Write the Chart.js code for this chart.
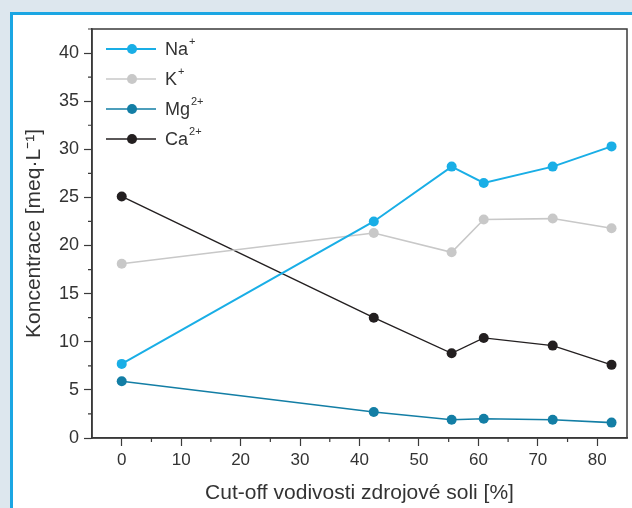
<!DOCTYPE html>
<html>
<head>
<meta charset="utf-8">
<script src="https://cdn.jsdelivr.net/npm/chart.js@4.4.1/dist/chart.umd.min.js"></script>
<style>
    html, body { margin: 0; padding: 0; background: #dde7ee; overflow: hidden; }
    #panel { position: absolute; left: 10px; top: 12px; width: 650px; height: 520px; background: #fff;
             border-left: 3px solid #1ba6e3; border-top: 3px solid #1ba6e3; }
    #wrap { position: absolute; left: 0; top: 0; width: 632px; height: 508px; }
</style>
</head>
<body>
<div id="panel"></div>
<div id="wrap"><canvas id="chart"></canvas></div>
<script>
// cut-off vodivosti (x) a koncentrace iontu (y)
const cutoff = [0, 42.4, 55.5, 60.9, 72.5, 82.4];
const na = [7.7, 22.5, 28.2, 26.5, 28.2, 30.3];
const k = [18.1, 21.3, 19.3, 22.7, 22.8, 21.8];
const mg = [5.9, 2.7, 1.9, 2.0, 1.9, 1.6];
const ca = [25.1, 12.5, 8.8, 10.4, 9.6, 7.6];
const ionNames = ['Na', 'K', 'Mg', 'Ca'];
const charges = ['+', '+', '2+', '2+'];
const xTicks = [0, 10, 20, 30, 40, 50, 60, 70, 80];
const yTicks = [0, 5, 10, 15, 20, 25, 30, 35, 40];
const xMinor = [5, 15, 25, 35, 45, 55, 65, 75];
const yMinor = [2.5, 7.5, 12.5, 17.5, 22.5, 27.5, 32.5, 37.5, 42.5];

const colors = ['#19aee6', '#c8c8c8', '#137ea5', '#231f20'];
const widths = [2, 1.6, 1.6, 1.4];
const series = [na, k, mg, ca];
const axisColor = '#3a3a3a';
const textColor = '#333';
const font = 'Liberation Sans, Arial, sans-serif';

const datasets = series.map((vals, i) => ({
    label: ionNames[i] + (charges[i] === '+' ? '⁺' : '²⁺'),
    data: vals.map((v, j) => ({ x: cutoff[j], y: v })),
    borderColor: colors[i],
    backgroundColor: colors[i],
    borderWidth: widths[i],
    pointRadius: 5,
    pointBorderWidth: 0,
    pointHoverRadius: 5,
    tension: 0
}));

// ramecek grafu, vedlejsi tiky a legenda
const extras = {
    id: 'extras',
    afterDraw(chart) {
        const ctx = chart.ctx;
        const a = chart.chartArea;
        const xs = chart.scales.x, ys = chart.scales.y;
        ctx.save();
        ctx.strokeStyle = axisColor;
        ctx.lineWidth = 1.5;
        ctx.strokeRect(a.left, a.top, a.right - a.left, a.bottom - a.top);
        ctx.lineWidth = 1.2;
        ctx.beginPath();
        xMinor.forEach(v => {
            const px = xs.getPixelForValue(v);
            ctx.moveTo(px, a.bottom); ctx.lineTo(px, a.bottom + 4);
        });
        yMinor.forEach(v => {
            const py = ys.getPixelForValue(v);
            ctx.moveTo(a.left, py); ctx.lineTo(a.left - 4, py);
        });
        ctx.stroke();

        // legenda
        ionNames.forEach((name, i) => {
            const y = a.top + 20 + i * 30;
            const x0 = a.left + 14;
            ctx.strokeStyle = colors[i];
            ctx.lineWidth = widths[i];
            ctx.beginPath();
            ctx.moveTo(x0, y); ctx.lineTo(x0 + 50, y);
            ctx.stroke();
            ctx.fillStyle = colors[i];
            ctx.beginPath();
            ctx.arc(x0 + 26, y, 5, 0, Math.PI * 2);
            ctx.fill();
            ctx.fillStyle = textColor;
            ctx.textBaseline = 'middle';
            ctx.textAlign = 'left';
            ctx.font = '18px ' + font;
            ctx.fillText(name, x0 + 59, y + 1);
            const w = ctx.measureText(name).width;
            ctx.font = '11px ' + font;
            ctx.fillText(charges[i], x0 + 59 + w + 1, y - 7);
        });
        ctx.restore();
    }
};

const chart = new Chart(document.getElementById('chart'), {
    type: 'line',
    data: { datasets: datasets },
    options: {
        responsive: true,
        maintainAspectRatio: false,
        animation: false,
        layout: { padding: { left: 0, right: 5, top: 29, bottom: 0 } },
        plugins: {
            legend: { display: false },
            tooltip: { enabled: false }
        },
        scales: {
            x: {
                type: 'linear',
                min: -5,
                max: 85,
                afterBuildTicks: s => { s.ticks = xTicks.map(v => ({ value: v })); },
                afterFit: s => { s.height = 70; },
                border: { display: true, color: axisColor, width: 1.5 },
                grid: { display: true, drawOnChartArea: false, drawTicks: true, tickLength: 8, tickColor: axisColor, tickWidth: 1.2 },
                ticks: { color: textColor, font: { family: font, size: 17 }, padding: 4, maxRotation: 0 },
                title: {
                    display: true,
                    text: 'Cut-off vodivosti zdrojové soli [%]',
                    color: textColor,
                    font: { family: font, size: 21 },
                    padding: { top: 0, bottom: 2 }
                }
            },
            y: {
                type: 'linear',
                min: 0,
                max: 42.5,
                afterBuildTicks: s => { s.ticks = yTicks.map(v => ({ value: v })); },
                afterFit: s => { s.width = 92; },
                border: { display: true, color: axisColor, width: 1.5 },
                grid: { display: true, drawOnChartArea: false, drawTicks: true, tickLength: 8, tickColor: axisColor, tickWidth: 1.2 },
                ticks: { color: textColor, font: { family: font, size: 18 }, padding: 5 },
                title: {
                    display: true,
                    text: 'Koncentrace [meq·L⁻¹]',
                    color: textColor,
                    font: { family: font, size: 21 },
                    padding: { top: 22, bottom: 0 }
                }
            }
        }
    },
    plugins: [extras]
});
</script>
</body>
</html>
